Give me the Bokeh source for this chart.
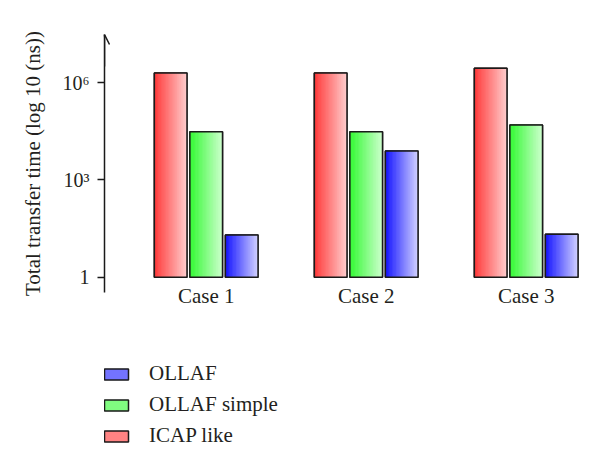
import numpy as np
from bokeh.plotting import figure
from bokeh.layouts import column
from bokeh.models import (Range1d, FixedTicker, Legend, LegendItem, Arrow, OpenHead)
from bokeh.embed import file_html
from bokeh.resources import INLINE

# ---- data ----
cases = ["Case 1", "Case 2", "Case 3"]
case_pos = [1, 2, 3]
series_names = ["ICAP like", "OLLAF simple", "OLLAF"]
icap_like = [2.0e6, 2.0e6, 2.8e6]
ollaf_simple = [3.1e4, 3.1e4, 5.0e4]
ollaf = [20, 7.9e3, 21]
y_ticks = [1.0, 1000.0, 1000000.0]
y_tick_labels = ["1", "10³", "10⁶"]
legend_order = ["OLLAF", "OLLAF simple", "ICAP like"]

# ---- style ----
FONT = "Liberation Serif"
TXT = "#231f20"
EDGE = "#1a1a1a"
series_values = [icap_like, ollaf_simple, ollaf]
dark = [(255, 58, 58), (52, 250, 52), (20, 20, 255)]
light = [(255, 205, 205), (205, 255, 205), (210, 210, 255)]
offsets = [-0.222, 0.0, 0.222]
bar_w = 0.204
N = 24

X0, X1 = 0.3644, 3.3394
Y0, Y1 = 10 ** -0.472, 10 ** 7.49

W = 584
p = figure(width=W, height=320, output_backend="svg", toolbar_location=None,
           y_axis_type="log",
           x_range=Range1d(X0, X1), y_range=Range1d(Y0, Y1),
           min_border_left=104, min_border_right=4, min_border_top=34,
           min_border_bottom=28)
p.outline_line_color = None
p.xgrid.grid_line_color = None
p.ygrid.grid_line_color = None
p.background_fill_color = "white"
p.border_fill_color = "white"

# legend-only figure
lg = figure(width=W, height=128, output_backend="svg", toolbar_location=None,
            x_range=Range1d(0, 1), y_range=Range1d(0, 1),
            x_axis_location=None, y_axis_location=None,
            min_border=0, min_border_left=0, min_border_right=0,
            min_border_top=0, min_border_bottom=0)
lg.outline_line_color = None
lg.xgrid.grid_line_color = None
lg.ygrid.grid_line_color = None

legend_renderers = {}
for s, (name, vals) in enumerate(zip(series_names, series_values)):
    lefts = [c + offsets[s] - bar_w / 2 for c in case_pos]
    rights = [c + offsets[s] + bar_w / 2 for c in case_pos]
    bottoms = [1.0] * len(vals)
    mid = tuple(int((d + l) / 2) for d, l in zip(dark[s], light[s]))
    mid_hex = "#%02x%02x%02x" % mid
    p.quad(left=lefts, right=rights, bottom=bottoms, top=vals,
           fill_color=mid_hex, line_color=EDGE, line_width=1.5)
    # same bars, hidden, in the legend figure
    legend_renderers[name] = lg.quad(left=lefts, right=rights, bottom=bottoms, top=vals,
                                     fill_color=mid_hex, line_color=EDGE,
                                     line_width=1.5, visible=False)
    # gradient strips
    sl, sr, sb, st, sc = [], [], [], [], []
    for j in range(len(vals)):
        for i in range(N):
            t = i / (N - 1)
            col = tuple(int(round(d + (l - d) * t)) for d, l in zip(dark[s], light[s]))
            sl.append(lefts[j] + (rights[j] - lefts[j]) * i / N)
            sr.append(lefts[j] + (rights[j] - lefts[j]) * (i + 1) / N)
            sb.append(1.0)
            st.append(vals[j])
            sc.append("#%02x%02x%02x" % col)
    p.quad(left=sl, right=sr, bottom=sb, top=st, fill_color=sc, line_color=sc,
           line_width=0.6)
    p.quad(left=lefts, right=rights, bottom=bottoms, top=vals,
           fill_alpha=0, line_color=EDGE, line_width=1.5)

# x axis
p.xaxis.ticker = FixedTicker(ticks=case_pos)
p.xaxis.major_label_overrides = {float(k): v for k, v in zip(case_pos, cases)}
p.xaxis.axis_line_color = None
p.xaxis.major_tick_line_color = None
p.xaxis.minor_tick_line_color = None
p.xaxis.major_label_standoff = -15
p.xaxis.major_label_text_font = FONT
p.xaxis.major_label_text_font_size = "21px"
p.xaxis.major_label_text_color = TXT

# y axis
p.yaxis.ticker = FixedTicker(ticks=y_ticks, minor_ticks=[])
p.yaxis.major_label_overrides = {k: v for k, v in zip(y_ticks, y_tick_labels)}
p.yaxis.axis_line_width = 1.5
p.yaxis.axis_line_color = EDGE
p.yaxis.major_tick_line_width = 1.5
p.yaxis.major_tick_line_color = EDGE
p.yaxis.major_tick_out = 7
p.yaxis.major_tick_in = 0
p.yaxis.minor_tick_line_color = None
p.yaxis.major_label_standoff = 8
p.yaxis.major_label_text_font = FONT
p.yaxis.major_label_text_font_size = "20px"
p.yaxis.major_label_text_color = TXT
p.yaxis.axis_label = "Total transfer time (log 10 (ns))"
p.yaxis.axis_label_text_font = FONT
p.yaxis.axis_label_text_font_size = "21px"
p.yaxis.axis_label_text_font_style = "normal"
p.yaxis.axis_label_text_color = TXT
p.yaxis.axis_label_standoff = 15

# arrow head on y axis
p.add_layout(Arrow(end=OpenHead(size=10, line_width=1.5, line_color=EDGE),
                   x_start=X0, y_start=10 ** 6.5, x_end=X0, y_end=Y1,
                   line_width=1.5, line_color=EDGE))

# legend
items = [LegendItem(label=n, renderers=[legend_renderers[n]]) for n in legend_order]
legend = Legend(items=items, location=(-3, 0), orientation="vertical",
                glyph_width=30, glyph_height=14, label_height=24, spacing=6,
                label_standoff=18, padding=0, margin=0, click_policy="none",
                border_line_color=None, background_fill_alpha=0,
                label_text_font=FONT, label_text_font_size="21px",
                label_text_color=TXT)
lg.add_layout(legend)

layout = column(p, lg, spacing=0)
open("out.html", "w").write(file_html(layout, INLINE))
